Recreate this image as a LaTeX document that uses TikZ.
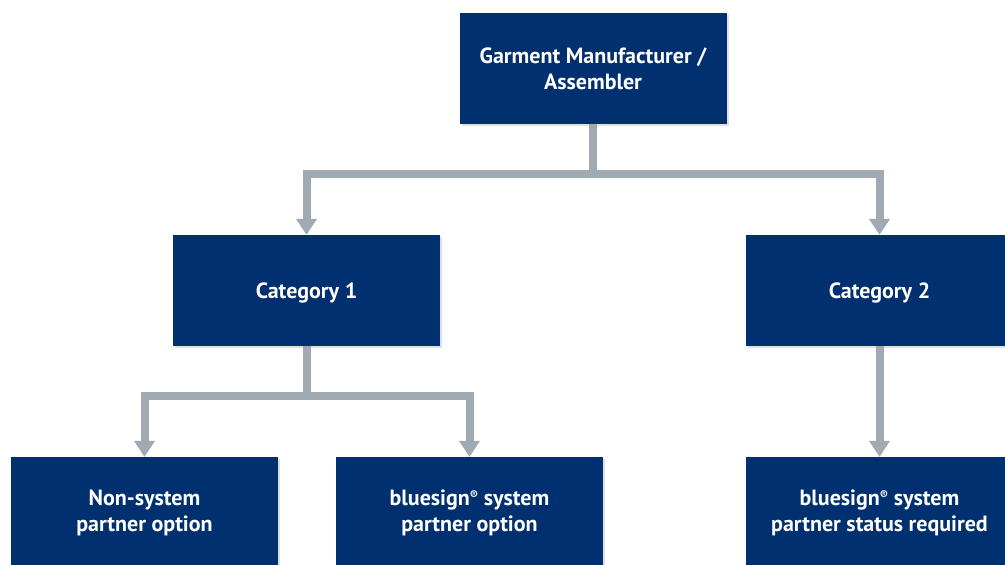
\documentclass[tikz,border=0pt]{standalone}
\usepackage{fontspec}
\setmainfont{PT Sans}
\usetikzlibrary{arrows.meta,shadows}
\definecolor{boxblue}{HTML}{00306F}
\definecolor{linegrey}{HTML}{A0AAB3}
\newcommand{\regmark}{\raisebox{0.5ex}{\fontsize{12}{12}\selectfont ®}}
\begin{document}
\begin{tikzpicture}[x=1pt,y=-1pt,
    unit/.style ={rectangle, fill=boxblue, text=white, align=center,
      minimum width=267pt, minimum height=111pt, inner sep=0pt,
      font=\fontsize{22}{26}\selectfont\bfseries,
      execute at begin node={\rule{0pt}{20pt}},
      drop shadow={shadow xshift=2pt, shadow yshift=-2pt, opacity=0.25}},
    link/.style ={draw=linegrey, line width=8pt,
      -{Triangle[width=20pt,length=16pt]}}]
   \clip (0,0) rectangle (1005,565);
   \node[unit] (top)   at (593,68.5)   {Garment Manufacturer /\\Assembler};
   \node[unit] (cat1)  at (306.5,290.5) {Category 1};
   \node[unit] (cat2)  at (879.5,290.5) {Category 2};
   \node[unit] (non)   at (144.5,512.5) {Non-system\\partner option};
   \node[unit] (opt)   at (469.5,512.5) {bluesign\regmark{} system\\partner option};
   \node[unit] (req)   at (879.5,512.5) {bluesign\regmark{} system\\partner status required};
   \coordinate (split1) at (593,174);
   \coordinate (split2) at (306.5,396);
   \draw[link] (top) -- (split1) -| (cat1);
   \draw[link] (split1) -| (cat2);
   \draw[link] (cat1) -- (split2) -| (non);
   \draw[link] (split2) -| (opt);
   \draw[link] (cat2) -- (req);
\end{tikzpicture}
\end{document}
